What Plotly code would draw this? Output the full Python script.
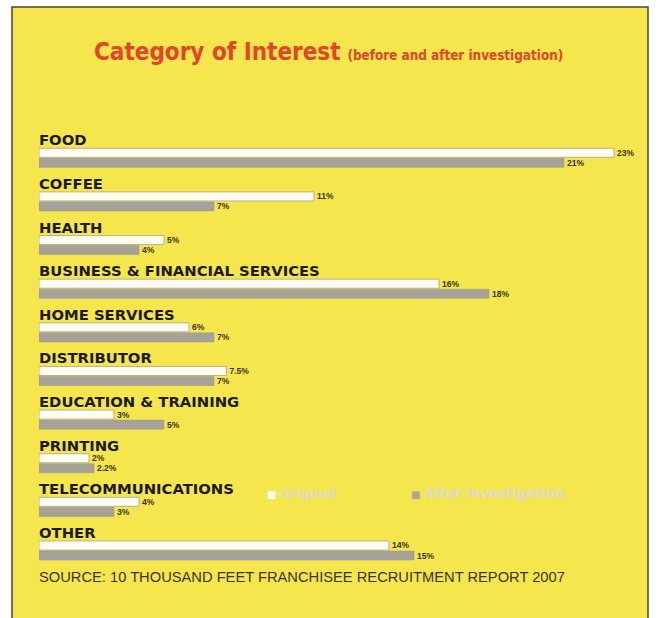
import plotly.graph_objects as go

# Survey categories, top to bottom
categories = [
    "FOOD", "COFFEE", "HEALTH", "BUSINESS & FINANCIAL SERVICES", "HOME SERVICES",
    "DISTRIBUTOR", "EDUCATION & TRAINING", "PRINTING", "TELECOMMUNICATIONS", "OTHER",
]
# Share of interest (%) before and after investigation
original = [23, 11, 5, 16, 6, 7.5, 3, 2, 4, 14]
after_investigation = [21, 7, 4, 18, 7, 7, 5, 2.2, 3, 15]

series_names = ["Original", "After Investigation"]
title_main = "Category of Interest"
title_sub = "(before and after investigation)"
source_note = "SOURCE: 10 THOUSAND FEET FRANCHISEE RECRUITMENT REPORT 2007"

W, H = 659, 618
ML, MR, MT, MB = 39, 10, 136, 40
PW, PH = W - ML - MR, H - MT - MB

YELLOW = "#f4e64c"
WHITE_BAR = "#fdfcf2"
GRAY_BAR = "#a6a29a"
LABEL_CLR = "#1c1a12"
TITLE_CLR = "#e4442a"
LEGEND_TXT = "#dedbcd"


def px_x(p):
    return (p - ML) / PW


def px_y(p):
    return (H - MB - p) / PH


def pct(v):
    return f"{v:g}%"


value_font = dict(family="Liberation Sans, Arial, sans-serif", size=8.5, color="#3a3418", weight="bold")

fig = go.Figure()
fig.add_trace(go.Bar(
    name=series_names[0], y=categories, x=original, orientation="h",
    marker=dict(color=WHITE_BAR, line=dict(color="#a8a38a", width=0.8)),
    text=[pct(v) for v in original], textposition="outside", textfont=value_font,
    cliponaxis=False, constraintext="none",
))
fig.add_trace(go.Bar(
    name=series_names[1], y=categories, x=after_investigation, orientation="h",
    marker=dict(color=GRAY_BAR, line=dict(color="#9a968c", width=0.5)),
    text=[pct(v) for v in after_investigation], textposition="outside", textfont=value_font,
    cliponaxis=False, constraintext="none",
))

annotations = []
# category headings above each pair of bars
for c in categories:
    annotations.append(dict(
        x=0, y=c, xref="x", yref="y", xanchor="left", yanchor="middle",
        yshift=18, xshift=-1, borderpad=0, text=f"<b>{c}</b>", showarrow=False,
        font=dict(family="DejaVu Sans, sans-serif", size=14.8, color=LABEL_CLR),
    ))

# title
annotations.append(dict(
    x=px_x(93), y=px_y(52), xref="paper", yref="paper", xanchor="left", yanchor="middle",
    showarrow=False, borderpad=0,
    text=(f"<b>{title_main}</b> "
          f"<span style='font-size:13.4px'><b>{title_sub}</b></span>"),
    font=dict(family="Liberation Sans Narrow, DejaVu Sans Condensed, sans-serif", size=24, color=TITLE_CLR),
))

# legend entries
annotations.append(dict(
    x=px_x(266), y=px_y(493), xref="paper", yref="paper", xanchor="left", yanchor="middle",
    showarrow=False, borderpad=0,
    text=f"<span style='color:#ffffff;font-size:10px'>■</span> <b>{series_names[0]}</b>",
    font=dict(family="DejaVu Sans, sans-serif", size=12.5, color=LEGEND_TXT),
))
annotations.append(dict(
    x=px_x(410), y=px_y(493), xref="paper", yref="paper", xanchor="left", yanchor="middle",
    showarrow=False, borderpad=0,
    text=f"<span style='color:#aaa69c;font-size:10px'>■</span> <b>{series_names[1]}</b>",
    font=dict(family="DejaVu Sans, sans-serif", size=13.2, color=LEGEND_TXT),
))

# source line
annotations.append(dict(
    x=px_x(38), y=px_y(577), xref="paper", yref="paper", xanchor="left", yanchor="middle",
    showarrow=False, borderpad=0, text=source_note,
    font=dict(family="Liberation Sans, Arial, sans-serif", size=14.7, color="#3a3520"),
))

fig.update_layout(
    width=W, height=H,
    margin=dict(l=ML, r=MR, t=MT, b=MB, pad=0),
    paper_bgcolor="#ffffff", plot_bgcolor="rgba(0,0,0,0)",
    barmode="group", bargap=0.54, bargroupgap=0.1,
    showlegend=False,
    xaxis=dict(range=[0, PW / 25], visible=False, fixedrange=True),
    yaxis=dict(autorange="reversed", visible=False, fixedrange=True),
    shapes=[dict(
        type="rect", xref="paper", yref="paper", layer="below",
        x0=px_x(12), x1=px_x(648), y0=px_y(640), y1=px_y(7),
        fillcolor=YELLOW, line=dict(color="#4a4636", width=1.5),
    )],
    annotations=annotations,
)

fig.write_html("out.html")
